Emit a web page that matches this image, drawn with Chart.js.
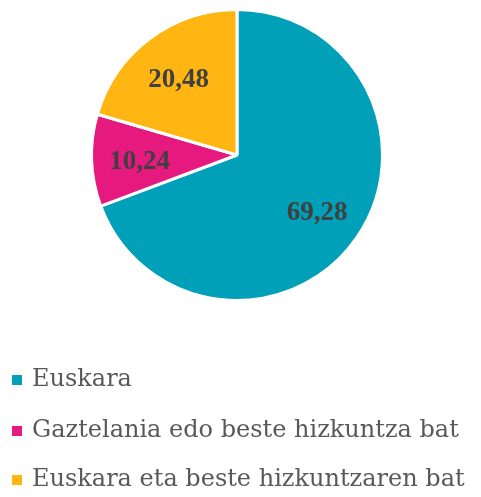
<!DOCTYPE html>
<html>
<head>
<meta charset="utf-8">
<script src="https://cdn.jsdelivr.net/npm/chart.js@4/dist/chart.umd.min.js"></script>
<style>
  html, body { margin: 0; padding: 0; background: #fff; }
  #wrap { width: 481px; height: 497px; }
</style>
</head>
<body>
<div id="wrap"><canvas id="myChart"></canvas></div>
<script>
const labels = ['Euskara', 'Gaztelania edo beste hizkuntza bat', 'Euskara eta beste hizkuntzaren bat'];
const values = [69.28, 10.24, 20.48];
const colors = ['#00A0B9', '#E6197E', '#FFB612'];

// value labels inside the slices, a bit outside mid radius
const sliceLabels = {
  id: 'sliceLabels',
  afterDatasetsDraw(chart) {
    const ctx = chart.ctx;
    const meta = chart.getDatasetMeta(0);
    ctx.save();
    ctx.font = 'bold 27px "Liberation Serif", serif';
    ctx.fillStyle = '#404040';
    ctx.textAlign = 'center';
    ctx.textBaseline = 'middle';
    meta.data.forEach((arc, i) => {
      const p = arc.getProps(['x', 'y', 'startAngle', 'endAngle', 'outerRadius'], true);
      const mid = (p.startAngle + p.endAngle) / 2;
      const r = p.outerRadius * 0.67;
      ctx.fillText(values[i].toFixed(2).replace('.', ','), p.x + Math.cos(mid) * r, p.y + Math.sin(mid) * r + 3);
    });
    ctx.restore();
  }
};

// vertical legend under the pie, left aligned
const listLegend = {
  id: 'listLegend',
  afterDraw(chart) {
    const ctx = chart.ctx;
    const rows = [380, 431, 480];
    ctx.save();
    ctx.font = '24px "DejaVu Serif", serif';
    ctx.textBaseline = 'middle';
    ctx.textAlign = 'left';
    chart.data.labels.forEach((lab, i) => {
      ctx.fillStyle = chart.data.datasets[0].backgroundColor[i];
      ctx.fillRect(12, rows[i] - 5, 10, 10);
      ctx.fillStyle = '#595959';
      ctx.fillText(lab, 32, rows[i]);
    });
    ctx.restore();
  }
};

new Chart(document.getElementById('myChart'), {
  type: 'pie',
  data: {
    labels: labels,
    datasets: [{
      data: values,
      backgroundColor: colors,
      borderColor: '#ffffff',
      borderWidth: 3
    }]
  },
  options: {
    responsive: true,
    maintainAspectRatio: false,
    animation: false,
    layout: { padding: { top: 8, right: 7, left: 0, bottom: 195 } },
    plugins: {
      tooltip: { enabled: false },
      legend: { display: false }
    }
  },
  plugins: [sliceLabels, listLegend]
});
</script>
</body>
</html>
